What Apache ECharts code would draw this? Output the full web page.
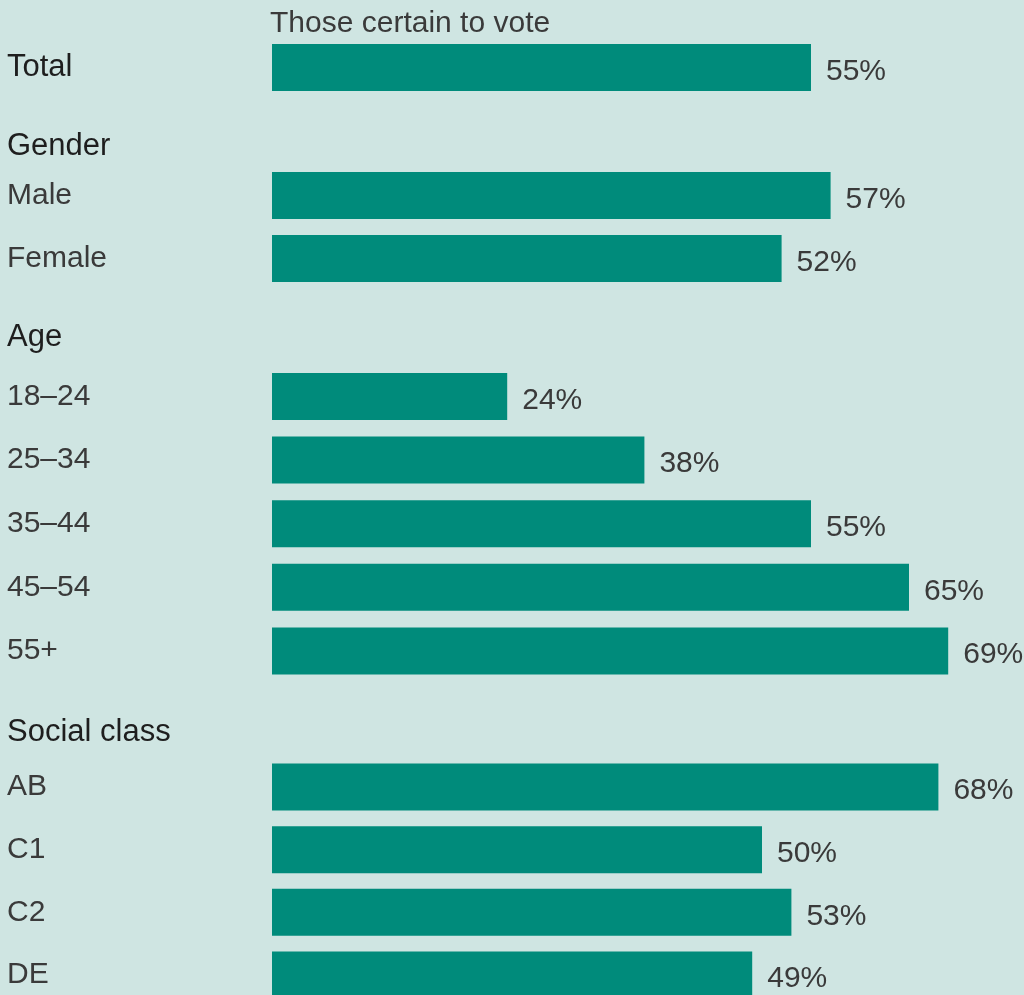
<!DOCTYPE html>
<html>
<head>
<meta charset="utf-8">
<script src="https://cdn.jsdelivr.net/npm/echarts@6/dist/echarts.min.js"></script>
<style>
  html, body { margin: 0; padding: 0; background: #cfe5e2; }
  #chart { width: 1024px; height: 995px; }
</style>
</head>
<body>
<div id="chart"></div>
<script>
// 数据
var totalCats = ['Total'];
var totalVals = [55];
var genderCats = ['Male', 'Female'];
var genderVals = [57, 52];
var ageCats = ['18–24', '25–34', '35–44', '45–54', '55+'];
var ageVals = [24, 38, 55, 65, 69];
var classCats = ['AB', 'C1', 'C2', 'DE'];
var classVals = [68, 50, 53, 49];
var headers = ['Gender', 'Age', 'Social class'];

var font = 'Liberation Sans, Arial, sans-serif';
var barColor = '#008b7b';
// 每 1% ≈ 9.8px，grid 宽 752px
var xMax = 752 / 9.8;

// 每个分组一个 grid（社会阶层一组超出画布，所以用 boundaryGap:false 定位）
var groups = [
	{ cats: totalCats, vals: totalVals, top: 35.5, height: 64, dark: true, gap: true },
	{ cats: genderCats, vals: genderVals, top: 164, height: 126, gap: true },
	{ cats: ageCats, vals: ageVals, top: 364.7, height: 318, gap: true },
	{ cats: classCats, vals: classVals, top: 787, height: 188, gap: false }
];

var grid = [], xAxis = [], yAxis = [], series = [];
groups.forEach(function (g, i) {
	grid.push({ left: 272, width: 752, top: g.top, height: g.height });
	xAxis.push({ gridIndex: i, type: 'value', min: 0, max: xMax, show: false });
	yAxis.push({
		gridIndex: i,
		type: 'category',
		data: g.cats,
		inverse: true,
		boundaryGap: g.gap,
		axisLine: { show: false },
		axisTick: { show: false },
		splitLine: { show: false },
		axisLabel: {
			align: 'left',
			margin: 265,
			padding: [7, 0, 0, 0],
			fontFamily: font,
			fontSize: g.dark ? 31 : 30,
			color: g.dark ? '#1e1e1e' : '#3a3a3a'
		}
	});
	series.push({
		type: 'bar',
		xAxisIndex: i,
		yAxisIndex: i,
		data: g.vals,
		barWidth: 47,
		itemStyle: { color: barColor },
		silent: true,
		label: {
			show: true,
			position: 'right',
			distance: 15,
			offset: [0, 4],
			formatter: '{c}%',
			fontFamily: font,
			fontSize: 30,
			color: '#3a3a3a'
		}
	});
});

var headerTops = [130, 321, 716];
var title = [{
	text: 'Those certain to vote',
	left: 270,
	top: 8,
	padding: 0,
	textStyle: { fontFamily: font, fontSize: 30, fontWeight: 'normal', color: '#3a3a3a', lineHeight: 32 }
}];
headers.forEach(function (h, i) {
	title.push({
		text: h,
		left: 7,
		top: headerTops[i],
		padding: 0,
		textStyle: { fontFamily: font, fontSize: 31, fontWeight: 'normal', color: '#1e1e1e', lineHeight: 32 }
	});
});

var myChart = echarts.init(document.getElementById('chart'));
myChart.setOption({
	backgroundColor: '#cfe5e2',
	animation: false,
	title: title,
	grid: grid,
	xAxis: xAxis,
	yAxis: yAxis,
	series: series
});
</script>
</body>
</html>
